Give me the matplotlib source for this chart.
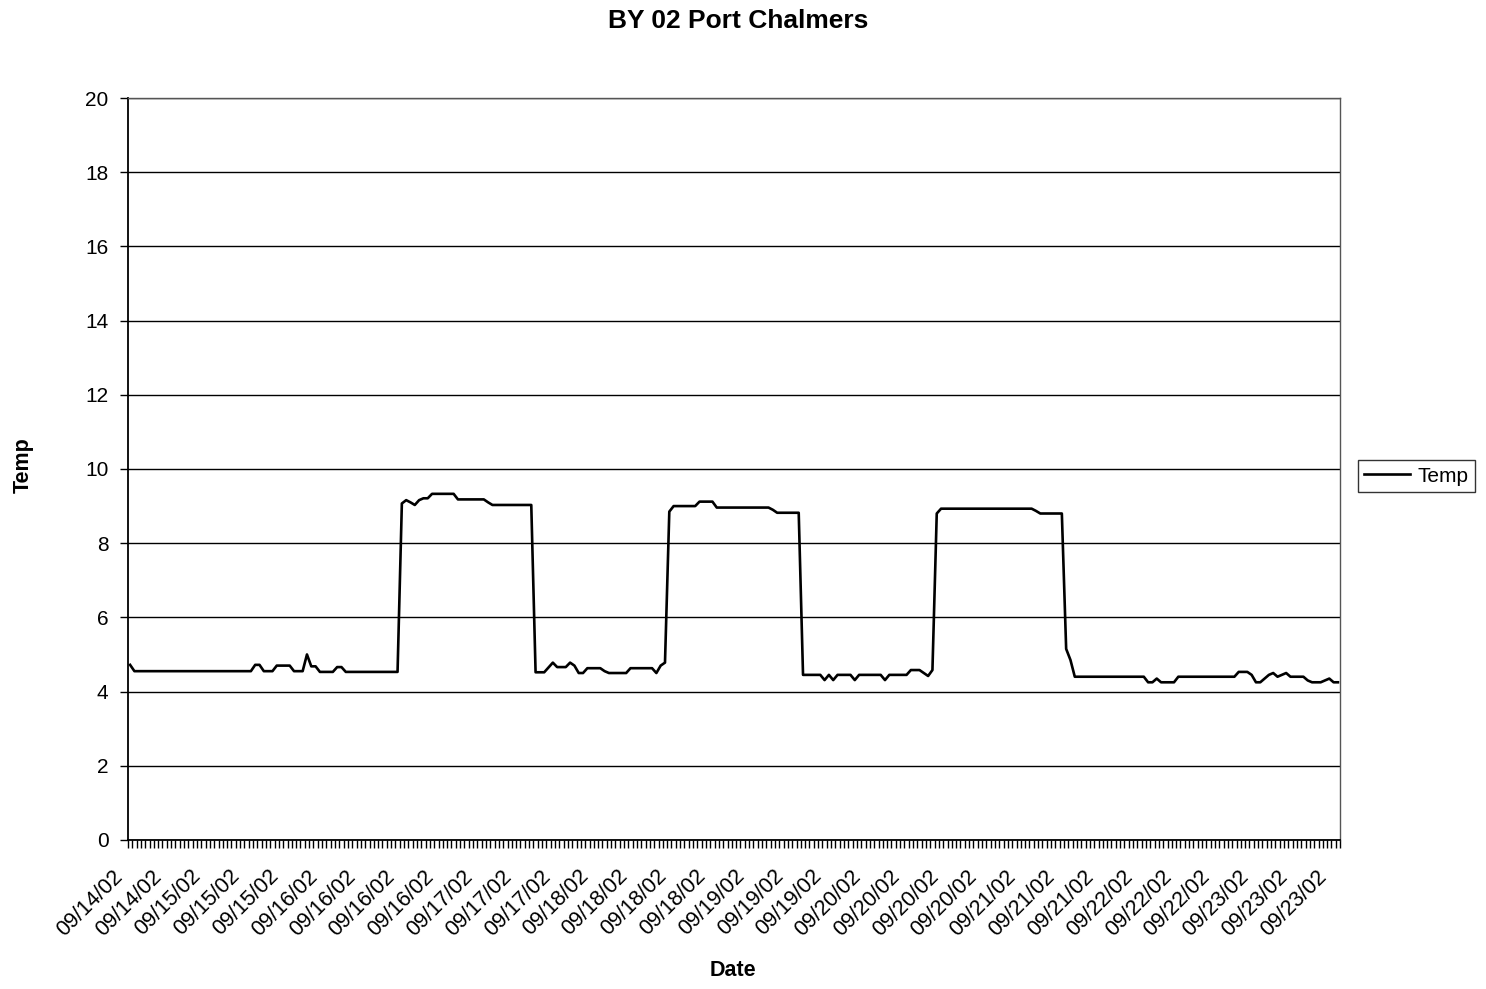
import numpy as np
import matplotlib
matplotlib.use('Agg')
import matplotlib.pyplot as plt
import matplotlib.transforms as mtransforms

plt.rcParams['font.family'] = ['Liberation Sans', 'DejaVu Sans']

# -----------------------------------------------------------------------------
# Data (read off the scanned chart, one value per logged reading)
# -----------------------------------------------------------------------------

TITLE = 'BY 02 Port Chalmers'
SERIES_NAME = 'Temp'

temp = (
    [4.72]
    + [4.55] * 28
    + [4.72] * 2
    + [4.55] * 3
    + [4.70] * 4
    + [4.55] * 3
    + [5.00]
    + [4.68] * 2
    + [4.53] * 4
    + [4.66] * 2
    + [4.53] * 13
    + [9.07, 9.16, 9.10, 9.03, 9.16]
    + [9.21] * 2
    + [9.33] * 6
    + [9.18] * 7
    + [9.10]
    + [9.03] * 10
    + [4.52] * 3
    + [4.65, 4.78]
    + [4.66] * 3
    + [4.78, 4.70]
    + [4.50] * 2
    + [4.63] * 4
    + [4.55]
    + [4.50] * 5
    + [4.63] * 6
    + [4.50, 4.70, 4.78]
    + [8.85]
    + [9.00] * 6
    + [9.12] * 4
    + [8.96] * 13
    + [8.90]
    + [8.82] * 6
    + [4.45] * 5
    + [4.31, 4.45, 4.31]
    + [4.45] * 4
    + [4.31]
    + [4.45] * 6
    + [4.31]
    + [4.45] * 5
    + [4.58] * 3
    + [4.50, 4.42, 4.58]
    + [8.80]
    + [8.93] * 22
    + [8.87]
    + [8.80] * 6
    + [5.15, 4.85]
    + [4.40] * 17
    + [4.25] * 2
    + [4.35]
    + [4.25] * 4
    + [4.40] * 14
    + [4.53] * 3
    + [4.45]
    + [4.25] * 2
    + [4.35, 4.45, 4.50, 4.40, 4.45, 4.50]
    + [4.40] * 4
    + [4.30]
    + [4.25] * 3
    + [4.30, 4.35]
    + [4.25] * 2
)

# every 9th reading carries a date label
LABEL_STEP = 9
date_labels = ['09/14/02', '09/14/02', '09/15/02', '09/15/02', '09/15/02',
               '09/16/02', '09/16/02', '09/16/02', '09/16/02', '09/17/02',
               '09/17/02', '09/17/02', '09/18/02', '09/18/02', '09/18/02',
               '09/18/02', '09/19/02', '09/19/02', '09/19/02', '09/20/02',
               '09/20/02', '09/20/02', '09/20/02', '09/21/02', '09/21/02',
               '09/21/02', '09/22/02', '09/22/02', '09/22/02', '09/23/02',
               '09/23/02', '09/23/02']

y_ticks = [0, 2, 4, 6, 8, 10, 12, 14, 16, 18, 20]


# -----------------------------------------------------------------------------
# Plot
# -----------------------------------------------------------------------------

n = len(temp)
x = np.arange(n)

fig = plt.figure(figsize=(14.86, 9.89), dpi=100)
ax = fig.add_axes([0.0861, 0.1507, 0.8157, 0.7502])

ax.plot(x, temp, color='black', linewidth=1.9, label=SERIES_NAME, zorder=3)

ax.set_xlim(-0.5, n - 0.5)
ax.set_ylim(0, 20)
ax.set_yticks(y_ticks)
ax.yaxis.grid(True, color='black', linewidth=1.0)
ax.set_axisbelow(True)

label_pos = np.arange(len(date_labels)) * LABEL_STEP
ax.set_xticks(label_pos)
ax.set_xticklabels(date_labels, rotation=45, ha='right', va='center',
                   rotation_mode='anchor', fontsize=15.5)
ax.set_xticks(np.arange(n + 1) - 0.5, minor=True)
ax.tick_params(axis='x', which='major', length=0, pad=24)
ax.tick_params(axis='x', which='minor', length=6, width=1.0, direction='out')
ax.tick_params(axis='y', which='major', length=6, width=1.0, labelsize=15, pad=8)

shift = mtransforms.ScaledTranslation(-10 / 100, 0, fig.dpi_scale_trans)
for lbl in ax.get_xticklabels():
    lbl.set_transform(lbl.get_transform() + shift)

for side in ['left', 'bottom']:
    ax.spines[side].set_color('black')
    ax.spines[side].set_linewidth(1.3)
for side in ['top', 'right']:
    ax.spines[side].set_color('#555555')
    ax.spines[side].set_linewidth(1.0)

fig.text(0.497, 0.979, TITLE, ha='center', va='center', fontsize=19, fontweight='bold')
fig.text(0.493, 0.019, 'Date', ha='center', va='center', fontsize=15.5, fontweight='bold')
fig.text(0.0155, 0.530, 'Temp', ha='center', va='center', rotation=90,
         fontsize=15.5, fontweight='bold')

leg = fig.legend(loc='center left', bbox_to_anchor=(0.9139, 0.5187), fontsize=15,
                 frameon=True, fancybox=False, borderpad=0.3, borderaxespad=0,
                 handlelength=2.2, handletextpad=0.35)
leg.get_frame().set_edgecolor('black')
leg.get_frame().set_linewidth(1.0)

fig.savefig('out.png', dpi=100)
